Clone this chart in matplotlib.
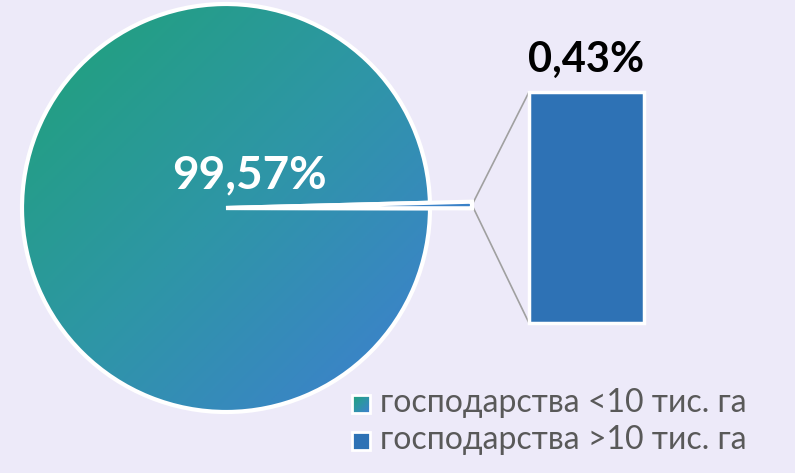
import numpy as np
import matplotlib.pyplot as plt
from matplotlib.patches import Wedge, Rectangle
from matplotlib.colors import LinearSegmentedColormap

# дані
labels = ['господарства <10 тис. га', 'господарства >10 тис. га']
shares = [99.57, 0.43]
share_txt = ['99,57%', '0,43%']

plt.rcParams['font.family'] = ['Lato', 'Open Sans', 'DejaVu Sans']

bg = '#EDEAF9'
fig = plt.figure(figsize=(7.95, 4.73), dpi=100, facecolor=bg)
ax = fig.add_axes([0, 0, 1, 1])
ax.set_xlim(0, 795)
ax.set_ylim(0, 473)
ax.set_facecolor(bg)
ax.axis('off')

# пиріг
cx, cy, r = 226, 265, 204
small_ang = shares[1] / 100 * 360
start = 0.7 - small_ang / 2
main = Wedge((cx, cy), r, start + small_ang, start + 360,
             facecolor='none', edgecolor='white', lw=3, zorder=3)
ax.add_patch(main)

# градієнт зелений -> синій по діагоналі
cmap = LinearSegmentedColormap.from_list('g', ['#1FA277', '#2E96A6', '#3F7ED2'])
yy, xx = np.mgrid[0:1:200j, 0:1:200j]
grad = (xx + (1 - yy)) / 2
im = ax.imshow(grad, cmap=cmap, extent=[cx - r, cx + r, cy - r, cy + r],
               origin='lower', zorder=2, aspect='auto')
im.set_clip_path(main)

# маленький сектор, винесений далі
small = Wedge((cx, cy), 246, start, start + small_ang,
              facecolor='#3A82C8', edgecolor='white', lw=3, zorder=4)
ax.add_patch(small)
ax.text(249, 298, share_txt[0], color='white', fontsize=33, fontweight='bold',
        ha='center', va='center', zorder=5)

# стовпчик
bx0, bx1, by0, by1 = 529, 644, 150, 381
ax.add_patch(Rectangle((bx0, by0), bx1 - bx0, (by1 - by0) * shares[1] / shares[1],
                       facecolor='#2E72B5', edgecolor='white', lw=2.5, zorder=3))
ax.text((bx0 + bx1) / 2, 413, share_txt[1], color='black', fontsize=30,
        fontweight='bold', ha='center', va='center')

# сполучні лінії
tip = (cx + 246 * np.cos(np.radians(0.7)), cy + 246 * np.sin(np.radians(0.7)))
ax.plot([tip[0], bx0], [tip[1], by1], color='#A0A0A0', lw=1.2, zorder=1)
ax.plot([tip[0], bx0], [tip[1], by0], color='#A0A0A0', lw=1.2, zorder=1)

# легенда
for i, lab in enumerate(labels):
    ly = 69 - i * 37
    sq = Rectangle((352, ly - 9), 18, 18, facecolor='none', edgecolor='white', lw=2, zorder=4)
    ax.add_patch(sq)
    if i == 0:
        g = ax.imshow(grad, cmap=cmap, extent=[352, 370, ly - 9, ly + 9],
                      origin='lower', zorder=3, aspect='auto')
        g.set_clip_path(sq)
    else:
        sq.set_facecolor('#2E72B5')
    ax.text(380, ly + 1, lab, color='#595959', fontsize=23, ha='left', va='center')

ax.set_xlim(0, 795)
ax.set_ylim(0, 473)
fig.savefig('out.png', dpi=100, facecolor=bg)
